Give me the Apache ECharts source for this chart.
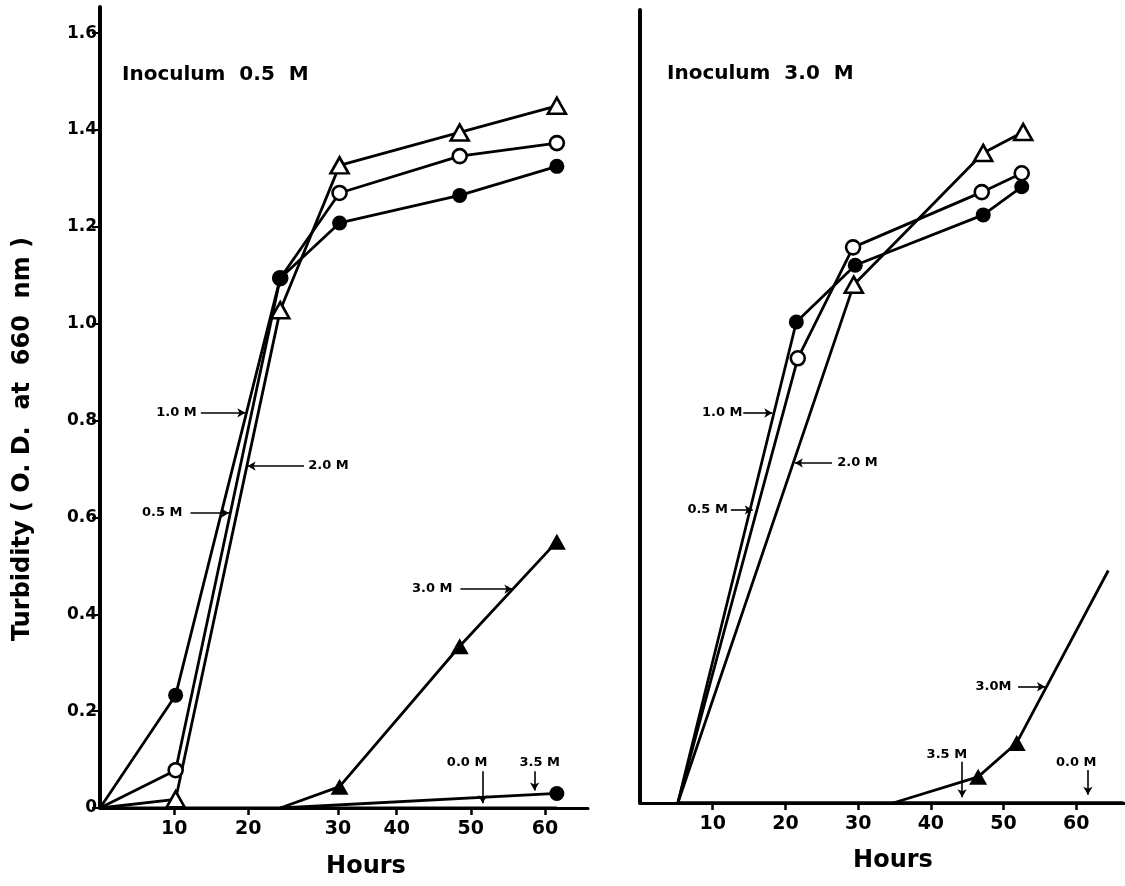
<!DOCTYPE html>
<html><head><meta charset="utf-8">
<script src="https://cdn.jsdelivr.net/npm/echarts@6/dist/echarts.min.js"></script>
<style>html,body{margin:0;padding:0;background:#fff}#c{width:1125px;height:886px}</style>
</head><body><div id="c"></div>
<script>
// ---------- DATA ([hours, turbidity O.D. 660 nm]) ----------
// Left panel: Inoculum 0.5 M
const L_1_0M = [[0,0],[10.2,0.233],[24.3,1.094],[32.3,1.208],[48.5,1.265],[61.6,1.325]];
const L_0_5M = [[0,0],[10.2,0.078],[24.3,1.094],[32.3,1.27],[48.5,1.346],[61.6,1.373]];
const L_2_0M = [[0,0],[10.2,0.018],[24.3,1.028],[32.3,1.327],[48.5,1.395],[61.6,1.45]];
const L_3_0M = [[24.3,0],[32.3,0.044],[48.5,0.334],[61.6,0.55]];
const L_3_5M = [[24.3,0],[61.6,0.03]];
const L_0_0M = [[0,0],[61.6,0]];
// which points carry a plotted symbol
const L_1_0M_MARK = [0,1,1,1,1,1];
const L_0_5M_MARK = [0,1,1,1,1,1];
const L_2_0M_MARK = [0,1,1,1,1,1];
const L_3_0M_MARK = [0,1,1,1];
const L_3_5M_MARK = [0,1];

// Right panel: Inoculum 3.0 M
const R_1_0M = [[5.2,0],[21.5,0.993],[29.6,1.11],[47.2,1.214],[52.5,1.272]];
const R_0_5M = [[5.2,0],[21.7,0.918],[29.3,1.147],[47.0,1.261],[52.5,1.30]];
const R_2_0M = [[5.2,0],[29.4,1.07],[47.2,1.342],[52.7,1.385]];
const R_3_0M = [[34.8,0],[46.5,0.054],[51.8,0.124],[64.4,0.48]];
const R_3_5M = [[5.2,0],[66.5,0]];
const R_0_0M = [[5.2,0],[66.5,0]];
const R_1_0M_MARK = [0,1,1,1,1];
const R_0_5M_MARK = [0,1,1,1,1];
const R_2_0M_MARK = [0,1,1,1];
const R_3_0M_MARK = [0,1,1,0];

// Tick positions / labels
const L_X_TICK_POS = [10,20,32.1,40,50,60];
const L_X_TICK_LABELS = ['10','20','30','40','50','60'];
const R_X_TICK_POS = [10,20,30,40,50,60];
const R_X_TICK_LABELS = ['10','20','30','40','50','60'];
const Y_TICK_POS = [0,0.2,0.4,0.6,0.8,1.0,1.2,1.4,1.6];
const Y_TICK_LABELS = ['0','0.2','0.4','0.6','0.8','1.0','1.2','1.4','1.6'];

// Annotation texts: [text, centreHour, centreOD]
const L_NOTES = [['1.0 M',10.3,0.816],['0.5 M',8.4,0.609],['2.0 M',30.8,0.706],['3.0 M',44.8,0.452],['0.0 M',49.5,0.094],['3.5 M',59.3,0.094]];
// Annotation arrows: [tailHour, tailOD, tipHour, tipOD]
const L_ARROWS = [[13.6,0.816,19.6,0.816],[12.2,0.609,17.4,0.609],[27.5,0.706,19.9,0.706],[48.6,0.452,55.6,0.452],[51.6,0.076,51.6,0.01],[58.6,0.076,58.6,0.036]];
const R_NOTES = [['1.0 M',11.3,0.805],['0.5 M',9.3,0.605],['2.0 M',29.9,0.702],['3.0M',48.6,0.24],['3.5 M',42.2,0.10],['0.0 M',60.0,0.083]];
const R_ARROWS = [[14.2,0.805,18.2,0.805],[12.5,0.605,15.5,0.605],[26.4,0.702,21.3,0.702],[52.0,0.24,55.7,0.24],[44.3,0.085,44.3,0.012],[61.6,0.068,61.6,0.017]];

// ---------- CHART ----------
const FONT = 'DejaVu Sans';
const chart = echarts.init(document.getElementById('c'));
function pts(data, marks){ return data.map((p,i)=> marks && marks[i] ? p : {value:p, symbol:'none'}); }
const openCircle = {symbol:'circle', symbolSize:14, itemStyle:{color:'#fff', borderColor:'#000', borderWidth:2.6}};
const filledCircle = {symbol:'circle', symbolSize:15, itemStyle:{color:'#000', borderColor:'#000', borderWidth:0}};
const openTri = {symbol:'triangle', symbolSize:[18,16], itemStyle:{color:'#fff', borderColor:'#000', borderWidth:2.6}};
const filledTri = {symbol:'triangle', symbolSize:[18,16], itemStyle:{color:'#000', borderColor:'#000', borderWidth:0}};
function line(name, gi, data, marks, sym){
  return Object.assign({type:'line', name, xAxisIndex:gi, yAxisIndex:gi, data:pts(data, marks),
    lineStyle:{color:'#000', width:2.8}, showAllSymbol:true, animation:false, silent:true, z:3}, sym || {symbol:'none'});
}
function notes(gi, N, A){
  return {type:'line', xAxisIndex:gi, yAxisIndex:gi, data:[], animation:false, silent:true, z:4,
    markLine:{silent:true, animation:false, symbol:['none','arrow'], symbolSize:[7,8],
      lineStyle:{color:'#000', width:1.6, type:'solid'}, label:{show:false},
      data:A.map(a=>[{coord:[a[0],a[1]]},{coord:[a[2],a[3]]}])},
    markPoint:{silent:true, animation:false, symbol:'circle', symbolSize:1, itemStyle:{color:'rgba(0,0,0,0)'},
      label:{show:true, position:'inside', formatter:p=>p.name, color:'#000', fontSize:13, fontWeight:'bold', fontFamily:FONT},
      data:N.map(n=>({name:n[0], coord:[n[1],n[2]]}))}};
}
function xAxis(gi, max, pos, labs){
  return {gridIndex:gi, type:'value', min:0, max, splitLine:{show:false},
    axisLine:{show:true, onZero:false, lineStyle:{color:'#000', width:3}},
    axisTick:{show:true, customValues:pos, length:7, lineStyle:{color:'#000', width:2.5}},
    axisLabel:{customValues:pos, formatter:v=>labs[pos.indexOf(v)], color:'#000', fontSize:19, fontWeight:'bold', fontFamily:FONT, margin:12}};
}
chart.setOption({
  backgroundColor:'#fff',
  animation:false,
  grid:[{left:100, top:7, width:488, height:801}, {left:640, top:10, width:485, height:793}],
  xAxis:[xAxis(0, 65.8, L_X_TICK_POS, L_X_TICK_LABELS), xAxis(1, 66.7, R_X_TICK_POS, R_X_TICK_LABELS)],
  yAxis:[
    {gridIndex:0, type:'value', min:0, max:1.654, splitLine:{show:false},
      axisLine:{show:true, lineStyle:{color:'#000', width:4}},
      axisTick:{show:true, customValues:Y_TICK_POS, length:8, lineStyle:{color:'#000', width:2}},
      axisLabel:{customValues:Y_TICK_POS, formatter:v=>Y_TICK_LABELS[Y_TICK_POS.indexOf(v)], color:'#000', fontSize:17, fontWeight:'bold', fontFamily:FONT, margin:3}},
    {gridIndex:1, type:'value', min:0, max:1.637, splitLine:{show:false},
      axisLine:{show:true, lineStyle:{color:'#000', width:4}}, axisTick:{show:false}, axisLabel:{show:false}}
  ],
  graphic:[
    {type:'text', x:23, y:439, rotation:Math.PI/2, style:{text:'Turbidity ( O. D.  at  660  nm )', font:'bold 24px "DejaVu Sans"', fill:'#000', textAlign:'center', textVerticalAlign:'middle'}},
    {type:'text', x:366, y:867, style:{text:'Hours', font:'bold 24px "DejaVu Sans"', fill:'#000', textAlign:'center', textVerticalAlign:'middle'}},
    {type:'text', x:893, y:861, style:{text:'Hours', font:'bold 24px "DejaVu Sans"', fill:'#000', textAlign:'center', textVerticalAlign:'middle'}},
    {type:'text', x:122, y:75, style:{text:'Inoculum  0.5  M', font:'bold 20px "DejaVu Sans"', fill:'#000', textAlign:'left', textVerticalAlign:'middle'}},
    {type:'text', x:667, y:74, style:{text:'Inoculum  3.0  M', font:'bold 20px "DejaVu Sans"', fill:'#000', textAlign:'left', textVerticalAlign:'middle'}}
  ],
  series:[
    line('0.0 M', 0, L_0_0M, null),
    line('3.5 M', 0, L_3_5M, L_3_5M_MARK, filledCircle),
    line('3.0 M', 0, L_3_0M, L_3_0M_MARK, filledTri),
    line('2.0 M', 0, L_2_0M, L_2_0M_MARK, openTri),
    line('0.5 M', 0, L_0_5M, L_0_5M_MARK, openCircle),
    line('1.0 M', 0, L_1_0M, L_1_0M_MARK, filledCircle),
    notes(0, L_NOTES, L_ARROWS),
    line('0.0 M', 1, R_0_0M, null),
    line('3.5 M', 1, R_3_5M, null),
    line('3.0 M', 1, R_3_0M, R_3_0M_MARK, filledTri),
    line('2.0 M', 1, R_2_0M, R_2_0M_MARK, openTri),
    line('0.5 M', 1, R_0_5M, R_0_5M_MARK, openCircle),
    line('1.0 M', 1, R_1_0M, R_1_0M_MARK, filledCircle),
    notes(1, R_NOTES, R_ARROWS)
  ]
});
</script></body></html>
